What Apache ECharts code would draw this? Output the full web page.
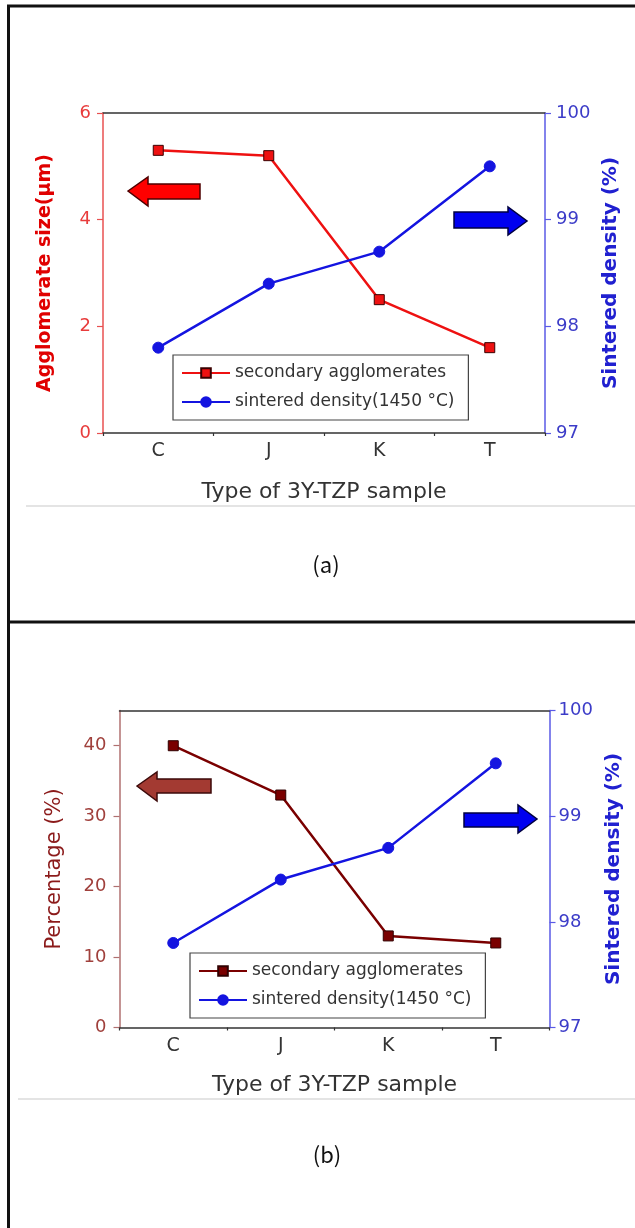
<!DOCTYPE html>
<html><head><meta charset="utf-8">
<script src="https://cdn.jsdelivr.net/npm/echarts@6/dist/echarts.min.js"></script>
<style>html,body{margin:0;padding:0;background:#fff}#c{width:635px;height:1228px}</style>
</head><body><div id="c"></div>
<script>
// ---- data ----
const categories = ['C', 'J', 'K', 'T'];
const agglomerateSize = [5.3, 5.2, 2.5, 1.6];      // panel (a), left axis (μm)
const densityA = [97.8, 98.4, 98.7, 99.5];         // panel (a), right axis (%)
const percentage = [40, 33, 13, 12];               // panel (b), left axis (%)
const densityB = [97.8, 98.4, 98.7, 99.5];         // panel (b), right axis (%)
const sizeTicks = [0, 2, 4, 6];
const densityTicks = [97, 98, 99, 100];
const percentTicks = [0, 10, 20, 30, 40];
const nameAgg = 'secondary agglomerates';
const nameDen = 'sintered density(1450 °C)';
const xName = 'Type of 3Y-TZP sample';

const F = 'DejaVu Sans';
const chart = echarts.init(document.getElementById('c'), null, {renderer: 'canvas'});

function xMain(gi, gap) {
  return {gridIndex: gi, type: 'category', data: categories, position: 'bottom', boundaryGap: true,
    axisLine: {lineStyle: {color: '#333', width: 1.5}},
    axisTick: {alignWithLabel: true, length: 6, lineStyle: {color: '#333', width: 1.5}},
    axisLabel: {color: '#333', fontSize: 19, fontFamily: F, margin: 9},
    name: xName, nameLocation: 'middle', nameGap: gap,
    nameTextStyle: {color: '#333', fontSize: 22, fontFamily: F}};
}
function xMinor(gi) {
  return {gridIndex: gi, type: 'category', data: categories, position: 'bottom',
    axisLine: {show: false}, axisTick: {show: true, interval: 0, length: 3, lineStyle: {color: '#333', width: 1.2}},
    axisLabel: {show: false}};
}
function xTop(gi) {
  return {gridIndex: gi, type: 'category', data: categories, position: 'top',
    axisLine: {lineStyle: {color: '#333', width: 1.5}}, axisTick: {show: false}, axisLabel: {show: false}};
}
function yAx(gi, pos, min, max, interval, ticks, lineColor, labelColor, name, nameColor, nameSize, bold, gap, margin) {
  return {gridIndex: gi, type: 'value', position: pos, min: min, max: max, interval: interval,
    splitLine: {show: false},
    axisLine: {show: true, lineStyle: {color: lineColor, width: 1.5}},
    axisTick: {show: true, length: 6, customValues: ticks, lineStyle: {color: lineColor, width: 1.2}},
    axisLabel: {color: labelColor, fontSize: 18, fontFamily: F, margin: margin, customValues: ticks},
    name: name, nameLocation: 'middle', nameRotate: 90, nameGap: gap,
    nameTextStyle: {color: nameColor, fontSize: nameSize, fontFamily: F, fontWeight: bold ? 'bold' : 'normal'}};
}
function legendBox(left, top) {
  return {orient: 'vertical', left: left, top: top, itemWidth: 48, itemHeight: 12, itemGap: 9,
    padding: [8, 14, 8, 8], borderColor: '#444', borderWidth: 1.2, backgroundColor: '#fff',
    textStyle: {color: '#333', fontSize: 17, fontFamily: F, lineHeight: 20},
    formatter: function (n) { return n.trim(); }};
}
function lineSeries(name, xi, yi, data, color, border, symbol, size) {
  return {name: name, type: 'line', xAxisIndex: xi, yAxisIndex: yi, data: data,
    symbol: symbol, symbolSize: size, showSymbol: true,
    lineStyle: {color: color, width: 2.5},
    itemStyle: {color: color, borderColor: border, borderWidth: 1}};
}
function arrow(points, fill, stroke) {
  return {type: 'polygon', shape: {points: points}, style: {fill: fill, stroke: stroke, lineWidth: 1.5}, z: 100};
}
function hline(x1, x2, y, color, w) {
  return {type: 'line', shape: {x1: x1, y1: y, x2: x2, y2: y}, style: {stroke: color, lineWidth: w}, z: 100};
}

const option = {
  animation: false,
  backgroundColor: '#fff',
  grid: [
    {left: 103, top: 113, width: 442, height: 320},
    {left: 119.5, top: 710.5, width: 430, height: 317}
  ],
  xAxis: [xMain(0, 48), xMinor(0), xTop(0), xMain(1, 47), xMinor(1), xTop(1)],
  yAxis: [
    yAx(0, 'left', 0, 6, 2, sizeTicks, '#e85050', '#e83c3c', 'Agglomerate size(μm)', '#e00000', 19, true, 48, 12),
    yAx(0, 'right', 97, 100, 1, densityTicks, '#5a5ae6', '#3c3cc8', 'Sintered density (%)', '#2020d0', 20, true, 56, 11),
    yAx(1, 'left', 0, 45, 10, percentTicks, '#b07070', '#a0403c', 'Percentage (%)', '#8b1a1a', 21, false, 54, 13),
    yAx(1, 'right', 97, 100, 1, densityTicks, '#5a5ae6', '#3c3cc8', 'Sintered density (%)', '#2020d0', 20, true, 52, 9)
  ],
  legend: [
    Object.assign(legendBox(173, 355), {data: [nameAgg, nameDen]}),
    Object.assign(legendBox(190, 953), {data: [nameAgg + ' ', nameDen + ' ']})
  ],
  series: [
    lineSeries(nameAgg, 0, 0, agglomerateSize, '#ee1111', '#3a0000', 'rect', 10),
    lineSeries(nameDen, 0, 1, densityA, '#1414e0', '#1414e0', 'circle', 11),
    lineSeries(nameAgg + ' ', 3, 2, percentage, '#7a0000', '#300000', 'rect', 10),
    lineSeries(nameDen + ' ', 3, 3, densityB, '#1414e0', '#1414e0', 'circle', 11)
  ],
  graphic: [
    // panel frames
    hline(7, 635, 6, '#111', 3),
    hline(7, 635, 622, '#111', 3),
    {type: 'line', shape: {x1: 8.5, y1: 5, x2: 8.5, y2: 1228}, style: {stroke: '#111', lineWidth: 3}, z: 100},
    // faint separators under the figures
    hline(26, 635, 506, '#e4e4e4', 2),
    hline(18, 635, 1099, '#e4e4e4', 2),
    // direction arrows
    arrow([[128, 191], [148, 177], [148, 184], [200, 184], [200, 199], [148, 199], [148, 206]], '#ff0000', '#4d0000'),
    arrow([[454, 212], [508, 212], [508, 207], [527, 221], [508, 235], [508, 228], [454, 228]], '#0000f0', '#000040'),
    arrow([[137, 786], [157, 772], [157, 779], [211, 779], [211, 793], [157, 793], [157, 801]], '#a33a32', '#3c0a0a'),
    arrow([[464, 813], [518, 813], [518, 805], [537, 819], [518, 833], [518, 827], [464, 827]], '#0000f0', '#000040'),
    // captions
    {type: 'text', x: 326, y: 565, z: 100, style: {text: '(a)', textAlign: 'center', textVerticalAlign: 'middle', fill: '#111', font: '22px "Noto Sans CJK JP"'}},
    {type: 'text', x: 327, y: 1155, z: 100, style: {text: '(b)', textAlign: 'center', textVerticalAlign: 'middle', fill: '#111', font: '22px "Noto Sans CJK JP"'}}
  ]
};
chart.setOption(option);
</script>
</body></html>
